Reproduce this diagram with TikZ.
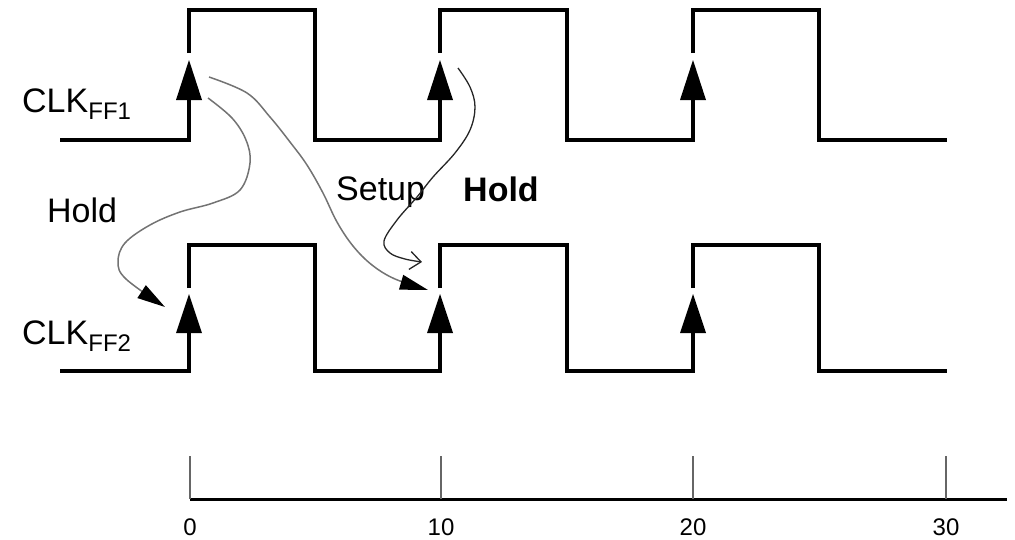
\documentclass[tikz,border=0pt]{standalone}
\usepackage{fontspec}
\setmainfont{Liberation Sans}
\usetikzlibrary{arrows.meta}
\newcommand{\lbl}{\fontsize{34}{38}\selectfont}
\newcommand{\sbs}[1]{\raisebox{-7pt}{\fontsize{24}{26}\selectfont #1}}
\begin{document}
\begin{tikzpicture}[x=1pt,y=-1pt,
  wave/.style={line width=4pt},
  edgetip/.style={fill=black},
  flow/.style={line width=1.5pt, draw=black!55},
  flowdark/.style={line width=1.3pt, draw=black!85},
  lab/.style={anchor=base west, inner sep=0pt, font=\lbl},
  num/.style={anchor=base, inner sep=0pt, font=\fontsize{24}{26}\selectfont},
  tick/.style={line width=2pt, draw=black!60},
  axis/.style={line width=3pt}]
\path[use as bounding box] (0,0) rectangle (1015,539);
% edge positions
\foreach \n/\x in {a/189,b/440,c/693}{
  \coordinate (u\n) at (\x,60);
  \coordinate (d\n) at (\x,294);
}
% waveform FF1
\draw[wave] (60,140) -| (189,100);
\draw[wave] (189,53) |- (315,10) |- (440,140) -- (440,100);
\draw[wave] (440,53) |- (567,10) |- (693,140) -- (693,100);
\draw[wave] (693,53) |- (819,10) |- (947,140);
% waveform FF2
\draw[wave] (60,371) -| (189,332);
\draw[wave] (189,288) |- (315,245) |- (440,371) -- (440,332);
\draw[wave] (440,288) |- (567,245) |- (693,371) -- (693,332);
\draw[wave] (693,288) |- (819,245) |- (947,371);
% edge arrowheads
\foreach \n in {a,b,c}{
  \fill[edgetip] (u\n) -- ++(-13,40) -- ++(26,0) -- cycle;
  \fill[edgetip] (d\n) -- ++(-13,39) -- ++(26,0) -- cycle;
}
% labels
\node[lab] (clk1) at (22,112) {CLK\sbs{FF1}};
\node[lab] (clk2) at (22,344) {CLK\sbs{FF2}};
\node[lab] (hold1) at (47,222) {Hold};
\node[lab] (setup) at (336,200) {Setup};
\node[lab, font=\lbl\bfseries] (hold2) at (463,201) {Hold};
% curves
\coordinate (h1s) at (208,98);
\coordinate (h1e) at (165,307);
\draw[flow, -{Triangle[length=28pt,width=15pt,black]}] plot[smooth, tension=0.6] coordinates
  {(h1s) (232,118) (246,140) (250,163) (240,190) (213,203) (180,212) (150,225) (125,243) (118,262) (126,279) (h1e)};
\coordinate (ss) at (209,77);
\coordinate (se) at (428,290);
\draw[flow, -{Triangle[length=28pt,width=15pt,black]}] plot[smooth, tension=0.6] coordinates
  {(ss) (247,93) (270,117) (290,142) (307,165) (323,193) (337,222) (353,246) (372,265) (395,279) (se)};
\coordinate (hs) at (458,68);
\coordinate (he) at (422,262);
\draw[flowdark, -{Straight Barb[length=11pt,width=18pt]}] plot[smooth, tension=0.6] coordinates
  {(hs) (470,87) (475,107) (470,130) (455,153) (433,177) (417,197) (397,220) (384,241) (390,253) (405,259) (he)};
% time axis
\draw[axis] (190,499) -- (1007,499);
\foreach \x/\t in {190/0,441/10,693/20,946/30}{
  \draw[tick] (\x,456) -- (\x,499);
  \node[num] (n\t) at (\x,535) {\t};
}
\end{tikzpicture}
\end{document}
